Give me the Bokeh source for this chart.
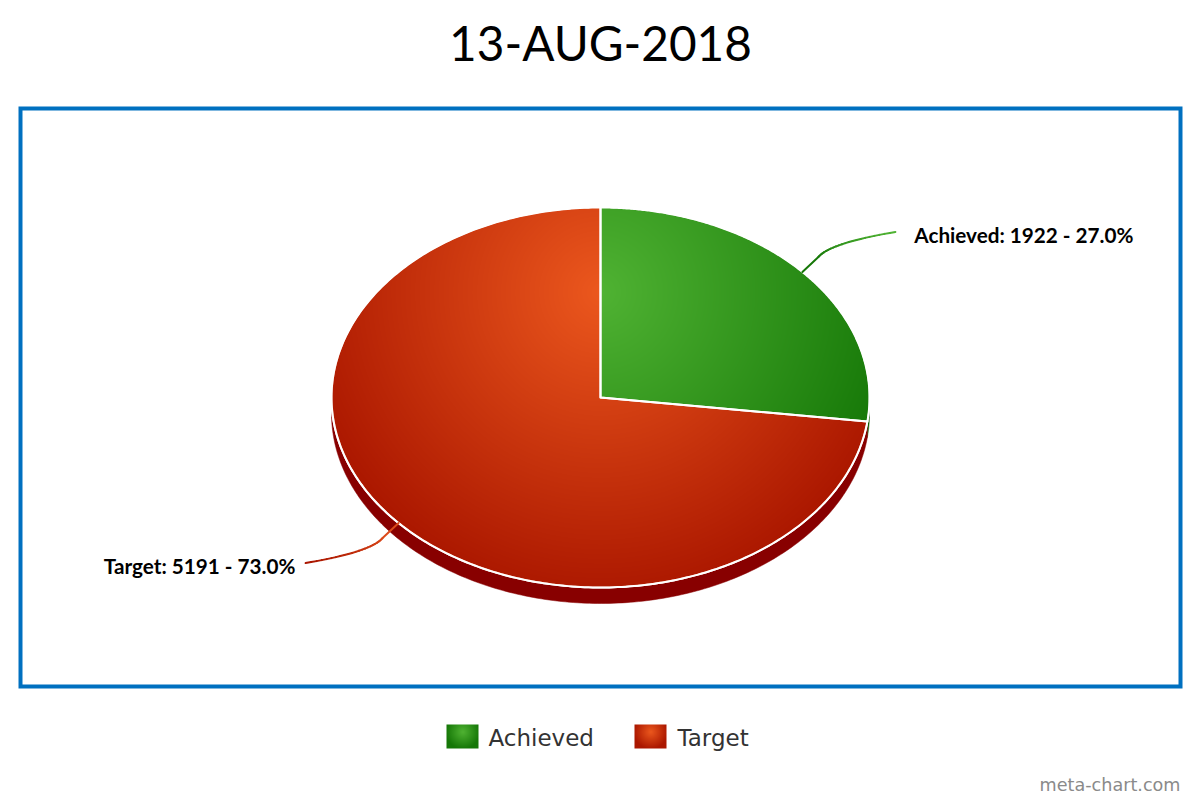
import numpy as np
from bokeh.plotting import figure
from bokeh.embed import file_html
from bokeh.resources import INLINE
from bokeh.core.properties import value
from bokeh.models import Range1d

title_text = "13-AUG-2018"
categories = ["Achieved", "Target"]
values = [1922, 5191]
watermark = "meta-chart.com"

colors_light = ["#50B333", "#EC581E"]
colors_dark = ["#157707", "#AB1700"]
colors_side = ["#0E5C02", "#880000"]
frame_color = "#0070C0"

W, H = 1200, 800
# page pixel -> data: x unchanged, y flipped so that data y = H - pixel y
def Y(py):
    return H - py

cx, cy, rx, ry, depth = 600.0, Y(397.0), 269.0, 190.0, 16.0
gcx, gcy, gr = 600.0, Y(292.0), 310.0

p = figure(width=W, height=H, x_range=Range1d(0, W), y_range=Range1d(0, H),
           output_backend="svg", toolbar_location=None, min_border=0,
           x_axis_type="linear", background_fill_color="white")
p.axis.visible = False
p.grid.visible = False
p.outline_line_color = None


def hex2rgb(h):
    return np.array([int(h[i:i + 2], 16) for i in (1, 3, 5)], dtype=float)


def lerp_hex(a, b, t):
    c = hex2rgb(a) * (1 - t) + hex2rgb(b) * t
    return "#%02x%02x%02x" % tuple(int(round(v)) for v in c)


def ell(theta, dy=0.0):
    """theta: clockwise from top, radians"""
    return cx + rx * np.sin(theta), cy + ry * np.cos(theta) - dy


total = sum(values)
fracs = [v / total for v in values]
starts = np.cumsum([0.0] + fracs[:-1]) * 2 * np.pi
ends = np.cumsum(fracs) * 2 * np.pi

# frame
p.rect([600], [Y(397)], [1160], [578], fill_color="white", line_color=frame_color, line_width=4,
       line_join="miter")

# side of the pie (visible between 90 and 270 degrees)
for i in range(len(values)):
    a = max(starts[i], np.pi * 0.47)
    b = min(ends[i], np.pi * 1.5)
    if b <= a:
        continue
    t = np.linspace(a, b, 200)
    x0, y0 = ell(t)
    x1, y1 = ell(t[::-1], depth)
    p.patch(np.r_[x0, x1], np.r_[y0, y1], fill_color=colors_side[i], line_color=colors_side[i], line_width=0.5)

# slices: flat base
for i in range(len(values)):
    t = np.linspace(starts[i], ends[i], 300)
    x0, y0 = ell(t)
    p.patch(np.r_[cx, x0], np.r_[cy, y0], fill_color=lerp_hex(colors_light[i], colors_dark[i], 0.7),
            line_color="white", line_width=2)

# slices: radial shading
ss = 2
x_px = np.arange(cx - rx - 2, cx + rx + 2, 1 / ss) + 0.5 / ss
y_px = np.arange(cy - ry - 2, cy + ry + 2, 1 / ss) + 0.5 / ss
XX, YY = np.meshgrid(x_px, y_px)
ang = np.mod(np.arctan2((XX - cx) / rx, (YY - cy) / ry), 2 * np.pi)
inside = ((XX - cx) / rx) ** 2 + ((YY - cy) / ry) ** 2 <= 0.994
gd = np.clip(np.hypot(XX - gcx, YY - gcy) / gr, 0, 1)
for i in range(len(values)):
    mask = inside & (ang >= starts[i]) & (ang <= ends[i])
    L, D = hex2rgb(colors_light[i]), hex2rgb(colors_dark[i])
    img = np.zeros(XX.shape, dtype=np.uint32)
    v = img.view(dtype=np.uint8).reshape((*XX.shape, 4))
    for k in range(3):
        v[..., k] = (L[k] * (1 - gd) + D[k] * gd).astype(np.uint8)
    v[..., 3] = np.where(mask, 255, 0)
    p.image_rgba(image=[img], x=[x_px[0] - 0.25], y=[y_px[0] - 0.25],
                 dw=[x_px[-1] - x_px[0] + 0.5], dh=[y_px[-1] - y_px[0] + 0.5])

# slice outlines
for i in range(len(values)):
    t = np.linspace(starts[i], ends[i], 300)
    x0, y0 = ell(t)
    p.patch(np.r_[cx, x0], np.r_[cy, y0], fill_alpha=0, line_color="white", line_width=2, line_join="round")

# connectors and data labels
for i, (name, val) in enumerate(zip(categories, values)):
    mid = (starts[i] + ends[i]) / 2
    ax, ay = ell(mid)
    s = 1.0 if np.sin(mid) > 0 else -1.0
    vs = 1.0 if np.cos(mid) > 0 else -1.0
    p1 = np.array([ax + s * 16, ay + vs * 15])
    c = np.array([ax + s * 28, ay + vs * 29])
    p3 = np.array([ax + s * 93, ay + vs * 40])
    tt = np.linspace(0, 1, 24)
    qx = (1 - tt) ** 2 * p1[0] + 2 * (1 - tt) * tt * c[0] + tt ** 2 * p3[0]
    qy = (1 - tt) ** 2 * p1[1] + 2 * (1 - tt) * tt * c[1] + tt ** 2 * p3[1]
    xs = np.r_[ax, qx]
    ys = np.r_[ay, qy]
    if i == 0:
        near, far = "#157707", "#4FB233"
    else:
        near, far = "#DC4A1A", "#AA1600"
    n = len(xs) - 1
    cols = [lerp_hex(near, far, j / (n - 1)) for j in range(n)]
    p.segment(xs[:-1], ys[:-1], xs[1:], ys[1:], line_color=cols, line_width=2, line_cap="round")
    label = f"{name}: {val} - {val / total * 100:.1f}%"
    lx = p3[0] + (128.5 if s > 0 else -106)
    ly = p3[1] - 3.5 if s > 0 else p3[1] - 3.0
    p.text([lx], [ly], text=[label], text_font=value("Lato"), text_font_size="20.7px",
           text_font_style="bold", text_color="#000000",
           text_align="center", text_baseline="middle")

# title
p.text([600], [Y(42)], text=[title_text], text_font=value("Lato"), text_font_size="47.7px",
       text_color="#000000", text_align="center", text_baseline="middle")

# legend
sw_x = [446, 634]
tx_x = [488, 677]
sw_w, sw_h = 32, 24
sw_top = 724
for i, name in enumerate(categories):
    x_s = np.arange(0, sw_w, 0.5) + 0.25
    y_s = np.arange(0, sw_h, 0.5) + 0.25
    XS, YS = np.meshgrid(x_s, y_s)
    d = np.clip(np.hypot(XS - sw_w * 0.5, YS - sw_h * 0.68) / 17.0, 0, 1)
    L, D = hex2rgb(colors_light[i]), hex2rgb(colors_dark[i])
    img = np.zeros(XS.shape, dtype=np.uint32)
    v = img.view(dtype=np.uint8).reshape((*XS.shape, 4))
    for k in range(3):
        v[..., k] = (L[k] * (1 - d) + D[k] * d).astype(np.uint8)
    v[..., 3] = 255
    p.image_rgba(image=[img], x=[sw_x[i]], y=[Y(sw_top + sw_h)], dw=[sw_w], dh=[sw_h])
    p.text([tx_x[i]], [Y(737)], text=[name], text_font=value("DejaVu Sans"), text_font_size="23px",
           text_color="#333333", text_align="left", text_baseline="middle")

# credit
p.text([1180], [Y(784)], text=[watermark], text_font=value("DejaVu Sans"), text_font_size="17.6px",
       text_color="#8a8a8a", text_align="right", text_baseline="middle")

open("out.html", "w").write(file_html(p, INLINE))
